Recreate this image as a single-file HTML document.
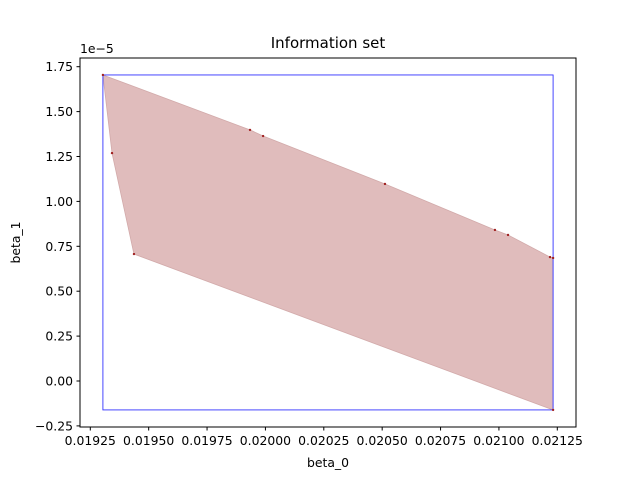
<!DOCTYPE html>
<html><head><meta charset="utf-8"><style>body{margin:0;background:#fff}svg{display:block;font-family:"DejaVu Sans","Liberation Sans",sans-serif}</style></head>
<body>
<svg id="c" width="640" height="480"></svg>
<script>
const xTicks=[0.01925,0.0195,0.01975,0.02,0.02025,0.0205,0.02075,0.021,0.02125];
const xTickLabels=["0.01925","0.01950","0.01975","0.02000","0.02025","0.02050","0.02075","0.02100","0.02125"];
const yTicks=[-0.25,0,0.25,0.5,0.75,1,1.25,1.5,1.75];
const yTickLabels=["−0.25","0.00","0.25","0.50","0.75","1.00","1.25","1.50","1.75"];
const hullX=[0.019304,0.019934,0.019990,0.020512,0.020983,0.021039,0.021219,0.021232,0.021232,0.019437,0.019343];
const hullY=[1.704,1.398,1.364,1.097,0.841,0.813,0.690,0.685,-0.161,0.707,1.269];
const boxX=[0.019304,0.021232];
const boxY=[-0.161,1.704];
const NS="http://www.w3.org/2000/svg";
const svg=document.getElementById('c');
const L=80,R=576,T=58,B=427;
function sx(v){return 90.3+(v-0.01925)/0.002*467;}
function sy(v){return 381-v*179.6;}
function mk(t,a,p){const e=document.createElementNS(NS,t);for(const k in a)e.setAttribute(k,a[k]);(p||svg).appendChild(e);return e;}
let pts=hullX.map((x,i)=>sx(x)+','+sy(hullY[i])).join(' ');
let poly=mk('polygon',{points:pts,fill:'rgb(224,188,188)',stroke:'rgb(210,170,170)','stroke-width':0.8});


let box=mk('rect',{x:sx(boxX[0]),y:sy(boxY[1]),width:sx(boxX[1])-sx(boxX[0]),height:sy(boxY[0])-sy(boxY[1]),fill:'none',stroke:'#3333ff','stroke-width':0.9});


hullX.forEach((x,i)=>{let c=mk('circle',{cx:sx(x),cy:sy(hullY[i]),r:1.2,fill:'#a02020'});

});
let fr=mk('rect',{x:L,y:T,width:R-L,height:B-T,fill:'none',stroke:'#000','stroke-width':1});


xTicks.forEach((v,i)=>{const x=sx(v);mk('line',{x1:x,x2:x,y1:B,y2:B+3.5,stroke:'#000'});
let t=mk('text',{x:x,y:B+18,'text-anchor':'middle','font-size':12.4});t.textContent=xTickLabels[i];

});
yTicks.forEach((v,i)=>{const y=sy(v);mk('line',{x1:L-3.5,x2:L,y1:y,y2:y,stroke:'#000'});
let t=mk('text',{x:L-7,y:y+4.5,'text-anchor':'end','font-size':12.4});t.textContent=yTickLabels[i];

});
let off=mk('text',{x:L,y:T-5,'font-size':12.4});off.textContent='1e−5';


let ti=mk('text',{x:(L+R)/2,y:T-10,'text-anchor':'middle','font-size':15});ti.textContent='Information set';


let xl=mk('text',{x:(L+R)/2,y:467,'text-anchor':'middle','font-size':12.4});xl.textContent='beta_0';


let yl=mk('text',{x:0,y:0,'text-anchor':'middle','font-size':12.4,transform:'translate(20,'+((T+B)/2)+') rotate(-90)'});yl.textContent='beta_1';


</script>
</body></html>
